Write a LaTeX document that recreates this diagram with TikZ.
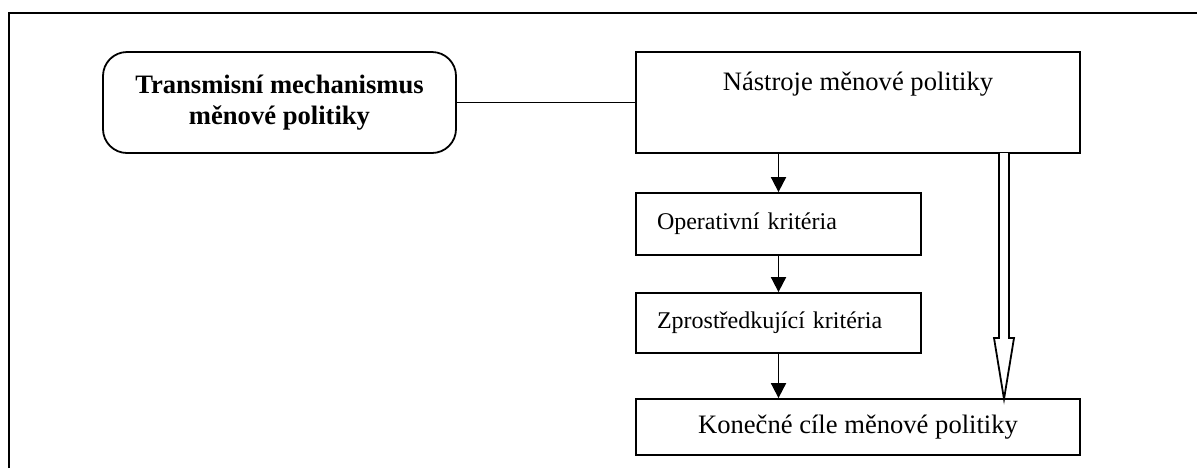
\documentclass[tikz,border=0pt]{standalone}
\usepackage{fontspec}
\setmainfont{Liberation Serif}
\usetikzlibrary{arrows.meta,calc}
\begin{document}
\begin{tikzpicture}[x=0.5pt,y=-0.5pt,
  lw/.style={line width=0.9pt},
  box/.style={draw,lw,rectangle,inner sep=0pt,align=center},
  leftbox/.style={box,inner xsep=10.5pt,text width=121.5pt,align=left},
  arr/.style={lw,-{Triangle[length=7.5pt,width=7.5pt]}},
  big/.style={font=\fontsize{13.3pt}{16pt}\selectfont},
  small/.style={font=\fontsize{12pt}{14pt}\selectfont}]
\useasboundingbox (0,0) rectangle (1197,468);
% frame
\draw[line width=0.9pt] (9,468) -- (9,13) -- (1197,13);
% nodes
\node[box,rounded corners=12pt,minimum width=176.5pt,minimum height=50.5pt,
      font=\fontsize{13.3pt}{15.5pt}\selectfont\bfseries] (tm) at (279.5,102.5)
      {Transmisní mechanismus\\měnové politiky};
\node[box,minimum width=222pt,minimum height=50.5pt,
      label={[big,anchor=north,yshift=-7pt]north:Nástroje měnové politiky}] (top) at (858,102.5) {};
\node[leftbox,small,minimum height=31pt] (op) at (778.5,224) {Operativní kritéria};
\node[leftbox,small,minimum height=30pt] (zp) at (778.5,323) {Zprostředkující kritéria};
\node[box,big,minimum width=222pt,minimum height=28pt] (goal) at (858,427) {Konečné cíle měnové politiky};
% connectors
\draw[lw] (tm.east) -- (top.west);
\draw[arr] (top.south -| op.north) -- (op.north);
\draw[arr] (op.south) -- (zp.north);
\draw[arr] (zp.south) -- (zp.south |- goal.north);
% hollow arrow
\coordinate (ha) at (1004,153);
\coordinate (hb) at (1004,399);
\draw[lw,fill=white,line join=miter]
  ($(ha)+(-5,0)$) -- ($(hb)+(-5,-61)$) -- ($(hb)+(-10,-61)$) -- (hb)
  -- ($(hb)+(10,-61)$) -- ($(hb)+(5,-61)$) -- ($(ha)+(5,0)$);
\end{tikzpicture}
\end{document}
